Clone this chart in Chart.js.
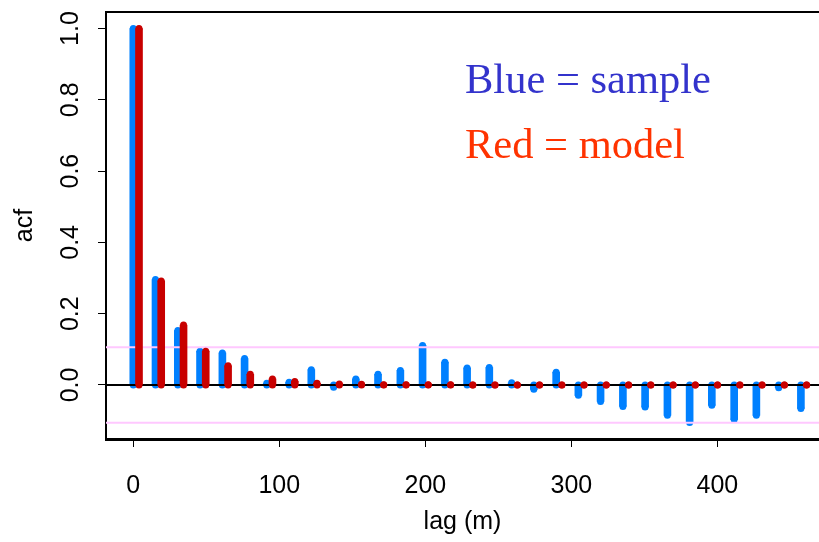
<!DOCTYPE html>
<html>
<head>
<meta charset="utf-8">
<title>acf</title>
<script src="https://cdn.jsdelivr.net/npm/chart.js@4.4.1/dist/chart.umd.min.js"></script>
<style>
  html, body { margin: 0; padding: 0; background: #fff; overflow: hidden; }
  canvas { display: block; }
</style>
</head>
<body>
<canvas id="acfChart" width="819" height="542"></canvas>
<script>
// lag (m) of every acf value
const lags = [0, 15.2, 30.5, 45.7, 61.0, 76.2, 91.4, 106.7, 121.9, 137.2, 152.4, 167.6, 182.9, 198.1, 213.4, 228.6,
  243.8, 259.1, 274.3, 289.6, 304.8, 320.0, 335.3, 350.5, 365.8, 381.0, 396.2, 411.5, 426.7, 442.0, 457.2];
// sample acf (blue)
const sampleAcf = [1.0, 0.296, 0.153, 0.095, 0.090, 0.074, 0.005, 0.008, 0.043, -0.006, 0.017, 0.030, 0.041, 0.111, 0.064, 0.048,
  0.049, 0.006, -0.012, 0.036, -0.029, -0.046, -0.060, -0.062, -0.085, -0.105, -0.057, -0.097, -0.085, -0.008, -0.066];
// model acf (red)
const modelAcf = [1.0, 0.292, 0.168, 0.095, 0.054, 0.030, 0.017, 0.010, 0.005, 0.003, 0.002, 0.001, 0.001, 0.001, 0.001, 0,
  0, 0, 0, 0, 0, 0, 0, 0, 0, 0, 0, 0, 0, 0, 0];
const ciBound = 0.106;
const lagTicks = [0, 100, 200, 300, 400];
const acfTicks = [0, 0.2, 0.4, 0.6, 0.8, 1.0];
const legendLines = ["Blue = sample", "Red = model"];

// axis limits
const xMin = -18.7, xMax = 469.6;
const yMin = -0.1515, yMax = 1.0463;
const modelShift = 3.9; // red bars sit just right of the blue ones

const blue = '#0080ff', red = '#c80000', pink = '#ffc8ff';
const axisFont = { family: "'Liberation Sans', Arial, sans-serif", size: 25 };

function bars(vals, shift) {
  return vals.map((v, i) => ({ x: lags[i] + shift, y: v }));
}
// round ends of each bar: a dot at the base and at the tip
function caps(vals, shift) {
  const pts = [];
  vals.forEach((v, i) => {
    pts.push({ x: lags[i] + shift, y: 0 });
    pts.push({ x: lags[i] + shift, y: v });
  });
  return pts;
}
function hline(y) {
  return [{ x: xMin, y: y }, { x: xMax, y: y }];
}

// top frame line + colour key
const framePlugin = {
  id: 'frame',
  afterDraw(chart) {
    const { ctx, chartArea: a } = chart;
    ctx.save();
    ctx.strokeStyle = '#000';
    ctx.lineWidth = 2;
    ctx.beginPath();
    ctx.moveTo(a.left, a.top);
    ctx.lineTo(a.right, a.top);
    ctx.stroke();

    ctx.font = "42.5px 'Liberation Serif', 'Times New Roman', serif";
    ctx.textAlign = 'left';
    ctx.textBaseline = 'alphabetic';
    ctx.fillStyle = '#3333cc';
    ctx.fillText(legendLines[0], 465, 93);
    ctx.fillStyle = '#ff3300';
    ctx.fillText(legendLines[1], 465, 158);
    ctx.restore();
  }
};

const tickGrid = {
  display: true,
  drawOnChartArea: false,
  drawTicks: true,
  tickLength: 8,
  tickColor: '#000',
  tickWidth: 1,
  offset: false
};

new Chart(document.getElementById('acfChart'), {
  type: 'bar',
  data: {
    datasets: [
      { type: 'bar', data: bars(sampleAcf, 0), backgroundColor: blue, barThickness: 7, grouped: false, order: 5 },
      { type: 'scatter', data: caps(sampleAcf, 0), pointBackgroundColor: blue, pointBorderWidth: 0, pointRadius: 3.5, order: 4 },
      { type: 'line', data: hline(ciBound), borderColor: pink, borderWidth: 2, pointRadius: 0, order: 3 },
      { type: 'line', data: hline(-ciBound), borderColor: pink, borderWidth: 2, pointRadius: 0, order: 3 },
      { type: 'line', data: hline(0), borderColor: '#000', borderWidth: 2, pointRadius: 0, order: 2 },
      { type: 'bar', data: bars(modelAcf, modelShift), backgroundColor: red, barThickness: 7, grouped: false, order: 1 },
      { type: 'scatter', data: caps(modelAcf, modelShift), pointBackgroundColor: red, pointBorderWidth: 0, pointRadius: 3.5, order: 0 }
    ]
  },
  options: {
    responsive: false,
    animation: false,
    layout: { autoPadding: false, padding: { top: 12, left: 0, right: 0, bottom: 0 } },
    plugins: {
      legend: { display: false },
      tooltip: { enabled: false }
    },
    scales: {
      x: {
        type: 'linear',
        min: xMin,
        max: xMax,
        offset: false,
        afterBuildTicks: s => { s.ticks = lagTicks.map(v => ({ value: v })); },
        afterFit: s => { s.height = 103; s.paddingLeft = 0; s.paddingRight = 0; },
        grid: tickGrid,
        border: { display: true, color: '#000', width: 3 },
        ticks: { color: '#000', font: axisFont, padding: 24, maxRotation: 0, autoSkip: false },
        title: { display: true, text: 'lag (m)', color: '#000', font: axisFont, padding: { top: 0, bottom: 5 } }
      },
      y: {
        type: 'linear',
        min: yMin,
        max: yMax,
        afterBuildTicks: s => { s.ticks = acfTicks.map(v => ({ value: v })); },
        afterFit: s => { s.width = 106; s.paddingTop = 0; s.paddingBottom = 0; },
        grid: tickGrid,
        border: { display: true, color: '#000', width: 2 },
        ticks: {
          color: '#000', font: axisFont, padding: 10, autoSkip: false,
          minRotation: 90, maxRotation: 90, crossAlign: 'center',
          callback: v => v.toFixed(1)
        },
        title: { display: true, text: 'acf', color: '#000', font: axisFont, padding: { top: 10, bottom: 0 } }
      }
    }
  },
  plugins: [framePlugin]
});
</script>
</body>
</html>
